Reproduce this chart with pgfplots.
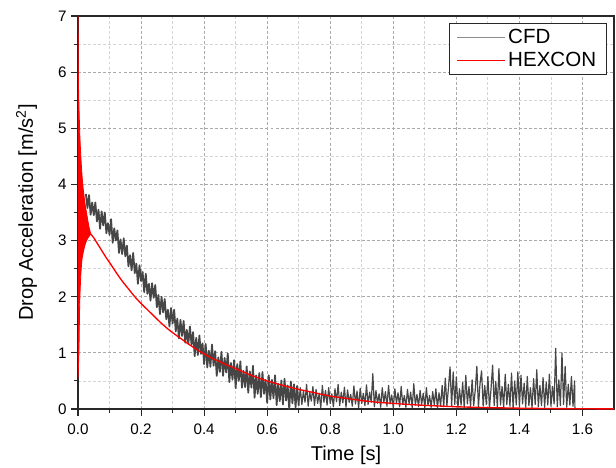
\documentclass[border=0pt]{standalone}
\usepackage{fontspec}
\setmainfont{Liberation Sans}
\usepackage{pgfplots}
\pgfplotsset{compat=1.18}
\definecolor{cfdgray}{RGB}{70,70,70}
\definecolor{cfdleg}{RGB}{140,140,140}
\definecolor{majgrid}{RGB}{170,170,170}
\definecolor{mingrid}{RGB}{212,212,212}
\definecolor{axcol}{RGB}{40,40,40}
\begin{document}
\begin{tikzpicture}
\begin{axis}[
  scale only axis,
  width=402pt, height=294.75pt,
  xmin=0, xmax=1.7, ymin=0, ymax=7,
  xtick={0,0.2,0.4,0.6,0.8,1.0,1.2,1.4,1.6},
  ytick={0,1,2,3,4,5,6,7},
  minor x tick num=1, minor y tick num=1,
  tick pos=left, tick align=outside,
  major tick length=5pt, minor tick length=3pt,
  tick style={axcol, line width=0.8pt},
  axis line style={axcol, line width=1pt},
  grid=both,
  major grid style={majgrid, dash pattern=on 2.2pt off 1.6pt, line width=0.6pt},
  minor grid style={mingrid, dash pattern=on 2.2pt off 1.6pt, line width=0.6pt},
  /pgf/number format/assume math mode=true,
  xticklabel style={/pgf/number format/fixed, /pgf/number format/fixed zerofill, /pgf/number format/precision=1, yshift=-2.5pt},
  ticklabel style={font=\fontsize{11.4}{13}\selectfont, text=black},
  xlabel={Time [s]},
  ylabel={Drop Acceleration [m/s\textsuperscript{2}]},
  label style={font=\fontsize{15}{17}\selectfont},
  xlabel style={yshift=-2pt},
  ylabel style={yshift=9pt},
  legend style={at={(rel axis cs:0.986,0.982)}, anchor=north east,
    font=\fontsize{15.4}{18}\selectfont, draw=axcol, line width=0.6pt,
    inner xsep=5.5pt, inner ysep=2.5pt, row sep=0.8pt},
  legend cell align=left,
  legend image code/.code={\draw[#1] (0pt,0pt) -- (36pt,0pt);},
]
\coordinate (sw) at (rel axis cs:0,0);
\coordinate (ne) at (rel axis cs:1,1);
\addlegendimage{cfdleg, line width=0.8pt}
\addlegendentry{CFD}
\addlegendimage{red, line width=0.8pt}
\addlegendentry{HEXCON}

% CFD, dense early part
\addplot[cfdgray, line width=1.3pt, line join=round, forget plot] table[row sep=\\] {
0.025 3.83\\ 0.030 3.58\\ 0.035 3.81\\ 0.040 3.46\\ 0.045 3.68\\ 0.050 3.45\\ 0.055 3.68\\ 0.060 3.34\\ 0.065 3.55\\ 0.070 3.21\\
0.075 3.52\\ 0.080 3.27\\ 0.085 3.50\\ 0.090 3.13\\ 0.095 3.31\\ 0.100 3.10\\ 0.105 3.38\\ 0.110 2.96\\ 0.115 3.22\\ 0.120 3.00\\
0.125 3.18\\ 0.130 2.78\\ 0.135 3.02\\ 0.140 2.76\\ 0.145 3.04\\ 0.150 2.72\\ 0.155 2.91\\ 0.160 2.54\\ 0.165 2.74\\ 0.170 2.47\\
0.175 2.78\\ 0.180 2.42\\ 0.185 2.59\\ 0.190 2.23\\ 0.195 2.56\\ 0.200 2.28\\ 0.205 2.44\\ 0.210 2.08\\ 0.215 2.41\\ 0.220 2.05\\
0.225 2.23\\ 0.230 1.93\\ 0.235 2.24\\ 0.240 1.98\\ 0.245 2.21\\ 0.250 1.81\\ 0.255 2.03\\ 0.260 1.69\\ 0.265 2.00\\ 0.270 1.72\\
0.275 1.96\\ 0.280 1.60\\ 0.285 1.77\\ 0.290 1.47\\ 0.295 1.80\\ 0.300 1.52\\ 0.305 1.77\\ 0.310 1.38\\ 0.315 1.61\\ 0.320 1.26\\
0.325 1.59\\ 0.330 1.30\\ 0.335 1.57\\ 0.340 1.18\\ 0.345 1.41\\ 0.350 1.16\\ 0.355 1.47\\ 0.360 1.14\\ 0.365 1.37\\ 0.370 0.94\\
0.375 1.27\\ 0.380 0.96\\ 0.385 1.31\\ 0.390 0.98\\ 0.395 1.17\\ 0.400 0.80\\ 0.405 1.16\\ 0.410 0.74\\ 0.415 1.04\\ 0.420 0.75\\
0.425 1.15\\ 0.430 0.77\\ 0.435 1.03\\ 0.440 0.59\\ 0.445 0.92\\ 0.450 0.66\\ 0.455 1.02\\ 0.460 0.59\\ 0.465 0.91\\ 0.470 0.65\\
0.475 0.99\\ 0.480 0.48\\ 0.485 0.82\\ 0.490 0.52\\ 0.495 0.87\\ 0.500 0.37\\ 0.505 0.80\\ 0.510 0.50\\ 0.515 0.85\\ 0.520 0.38\\
0.525 0.68\\ 0.530 0.39\\ 0.535 0.76\\ 0.540 0.29\\ 0.545 0.67\\ 0.550 0.38\\ 0.555 0.77\\ 0.560 0.20\\ 0.565 0.60\\ 0.570 0.27\\
0.575 0.64\\ 0.580 0.21\\ 0.585 0.66\\ 0.590 0.27\\ 0.595 0.52\\ 0.600 0.11\\ 0.605 0.60\\ 0.610 0.17\\ 0.615 0.52\\ 0.620 0.19\\
0.625 0.60\\ 0.630 0.07\\ 0.635 0.45\\ 0.640 0.14\\ 0.645 0.51\\ 0.650 0.08\\ 0.655 0.54\\ 0.660 0.15\\ 0.665 0.42\\ 0.670 0.00\\
0.675 0.49\\ 0.680 0.10\\ 0.685 0.44\\ 0.690 0.03\\ 0.695 0.41\\ 0.700 0.06\\
};
% CFD, spiky later part
\addplot[cfdgray, line width=0.9pt, line join=round, forget plot] table[row sep=\\] {
0.700 0.06\\ 0.705 0.38\\ 0.710 0.08\\ 0.715 0.32\\ 0.720 0.12\\
0.725 0.44\\ 0.730 0.05\\ 0.735 0.30\\ 0.740 0.14\\ 0.745 0.40\\ 0.750 0.06\\ 0.755 0.35\\ 0.760 0.10\\ 0.765 0.28\\ 0.770 0.02\\
0.775 0.42\\ 0.780 0.12\\ 0.785 0.33\\ 0.790 0.07\\ 0.795 0.38\\ 0.800 0.10\\ 0.805 0.27\\ 0.810 0.04\\ 0.815 0.36\\ 0.820 0.13\\
0.825 0.44\\ 0.830 0.06\\ 0.835 0.30\\ 0.840 0.11\\ 0.845 0.39\\ 0.850 0.03\\ 0.855 0.34\\ 0.860 0.12\\ 0.865 0.26\\ 0.870 0.05\\
0.875 0.41\\ 0.880 0.09\\ 0.885 0.32\\ 0.890 0.02\\ 0.895 0.37\\ 0.900 0.10\\ 0.905 0.28\\ 0.910 0.06\\ 0.915 0.43\\ 0.920 0.08\\
0.925 0.30\\ 0.930 0.12\\ 0.935 0.63\\ 0.940 0.04\\ 0.945 0.33\\ 0.950 0.10\\ 0.955 0.27\\ 0.960 0.03\\ 0.965 0.38\\ 0.970 0.11\\
0.975 0.31\\ 0.980 0.05\\ 0.985 0.42\\ 0.990 0.09\\ 0.995 0.25\\ 1.000 0.02\\ 1.005 0.36\\ 1.010 0.10\\ 1.015 0.29\\ 1.020 0.04\\
1.025 0.40\\ 1.030 0.08\\ 1.035 0.24\\ 1.040 0.03\\ 1.045 0.35\\ 1.050 0.09\\ 1.055 0.30\\ 1.060 0.02\\ 1.065 0.45\\ 1.070 0.07\\
1.075 0.26\\ 1.080 0.04\\ 1.085 0.33\\ 1.090 0.08\\ 1.095 0.28\\ 1.100 0.02\\ 1.105 0.38\\ 1.110 0.06\\ 1.115 0.24\\ 1.120 0.03\\
1.125 0.31\\ 1.130 0.07\\ 1.135 0.36\\ 1.140 0.02\\ 1.145 0.29\\ 1.150 0.05\\ 1.155 0.42\\ 1.160 0.04\\ 1.165 0.55\\ 1.170 0.06\\
1.175 0.38\\ 1.180 0.75\\ 1.185 0.05\\ 1.190 0.66\\ 1.195 0.08\\ 1.200 0.57\\ 1.205 0.03\\ 1.210 0.36\\ 1.215 0.07\\ 1.220 0.48\\
1.225 0.02\\ 1.230 0.60\\ 1.235 0.09\\ 1.240 0.40\\ 1.245 0.04\\ 1.250 0.52\\ 1.255 0.06\\ 1.260 0.34\\ 1.265 0.76\\ 1.270 0.03\\
1.275 0.45\\ 1.280 0.68\\ 1.285 0.05\\ 1.290 0.42\\ 1.295 0.08\\ 1.300 0.58\\ 1.305 0.02\\ 1.310 0.36\\ 1.315 0.78\\ 1.320 0.06\\
1.325 0.49\\ 1.330 0.04\\ 1.335 0.72\\ 1.340 0.07\\ 1.345 0.40\\ 1.350 0.03\\ 1.355 0.62\\ 1.360 0.08\\ 1.365 0.44\\ 1.370 0.05\\
1.375 0.64\\ 1.380 0.02\\ 1.385 0.50\\ 1.390 0.07\\ 1.395 0.66\\ 1.400 0.04\\ 1.405 0.60\\ 1.410 0.09\\ 1.415 0.46\\ 1.420 0.03\\
1.425 0.58\\ 1.430 0.06\\ 1.435 0.38\\ 1.440 0.02\\ 1.445 0.54\\ 1.450 0.08\\ 1.455 0.70\\ 1.460 0.04\\ 1.465 0.42\\ 1.470 0.06\\
1.475 0.56\\ 1.480 0.03\\ 1.485 0.48\\ 1.490 0.07\\ 1.495 0.62\\ 1.500 0.05\\ 1.505 0.40\\ 1.510 0.09\\ 1.515 1.08\\ 1.520 0.04\\
1.525 0.52\\ 1.530 0.06\\ 1.535 1.00\\ 1.540 0.08\\ 1.545 0.76\\ 1.550 0.03\\ 1.555 0.44\\ 1.560 0.07\\ 1.565 0.58\\ 1.570 0.05\\
1.575 0.50\\ 1.576 0.02\\
};

% oscillating start of HEXCON: upper envelope, then lower envelope back
\addplot[draw=red, fill=red, line width=0.6pt, line join=round, forget plot] table[row sep=\\] {
0.000 7.00\\ 0.001 6.00\\ 0.002 5.65\\ 0.003 5.40\\ 0.004 5.20\\ 0.005 5.00\\ 0.006 4.85\\ 0.008 4.60\\ 0.010 4.40\\ 0.012 4.22\\
0.014 4.07\\ 0.016 3.95\\ 0.018 3.85\\ 0.020 3.75\\ 0.023 3.63\\ 0.026 3.53\\ 0.029 3.43\\ 0.032 3.33\\ 0.035 3.24\\ 0.038 3.17\\
0.040 3.13\\ 0.040 3.11\\ 0.037 3.09\\ 0.033 3.06\\ 0.029 3.02\\ 0.025 2.97\\ 0.021 2.90\\ 0.017 2.80\\ 0.013 2.68\\ 0.011 2.56\\
0.009 2.40\\ 0.007 2.15\\ 0.006 2.00\\ 0.005 1.75\\ 0.004 1.40\\ 0.003 1.00\\ 0.002 0.85\\ 0.001 0.70\\ 0.000 0.55\\
} -- cycle;

\addplot[red, line width=1pt, smooth, tension=0.5, forget plot] table[row sep=\\] {
0.040 3.12\\ 0.050 3.05\\ 0.060 2.96\\ 0.070 2.87\\ 0.080 2.78\\ 0.090 2.69\\ 0.100 2.61\\ 0.120 2.44\\ 0.140 2.28\\ 0.160 2.14\\
0.180 2.00\\ 0.200 1.88\\ 0.220 1.77\\ 0.240 1.66\\ 0.260 1.55\\ 0.280 1.45\\ 0.300 1.36\\ 0.330 1.24\\ 0.360 1.12\\ 0.400 0.98\\
0.450 0.84\\ 0.500 0.72\\ 0.550 0.60\\ 0.600 0.50\\ 0.650 0.42\\ 0.700 0.35\\ 0.750 0.29\\ 0.800 0.23\\ 0.850 0.19\\ 0.900 0.15\\
0.950 0.12\\ 1.000 0.10\\ 1.050 0.08\\ 1.100 0.065\\ 1.200 0.04\\ 1.300 0.025\\ 1.400 0.015\\ 1.500 0.008\\ 1.600 0.004\\ 1.700 0.002\\
};
\end{axis}
\pgfresetboundingbox
\path ([shift={(-58.5pt,-43.5pt)}]sw) rectangle ([shift={(1.5pt,12pt)}]ne);
\end{tikzpicture}
\end{document}
